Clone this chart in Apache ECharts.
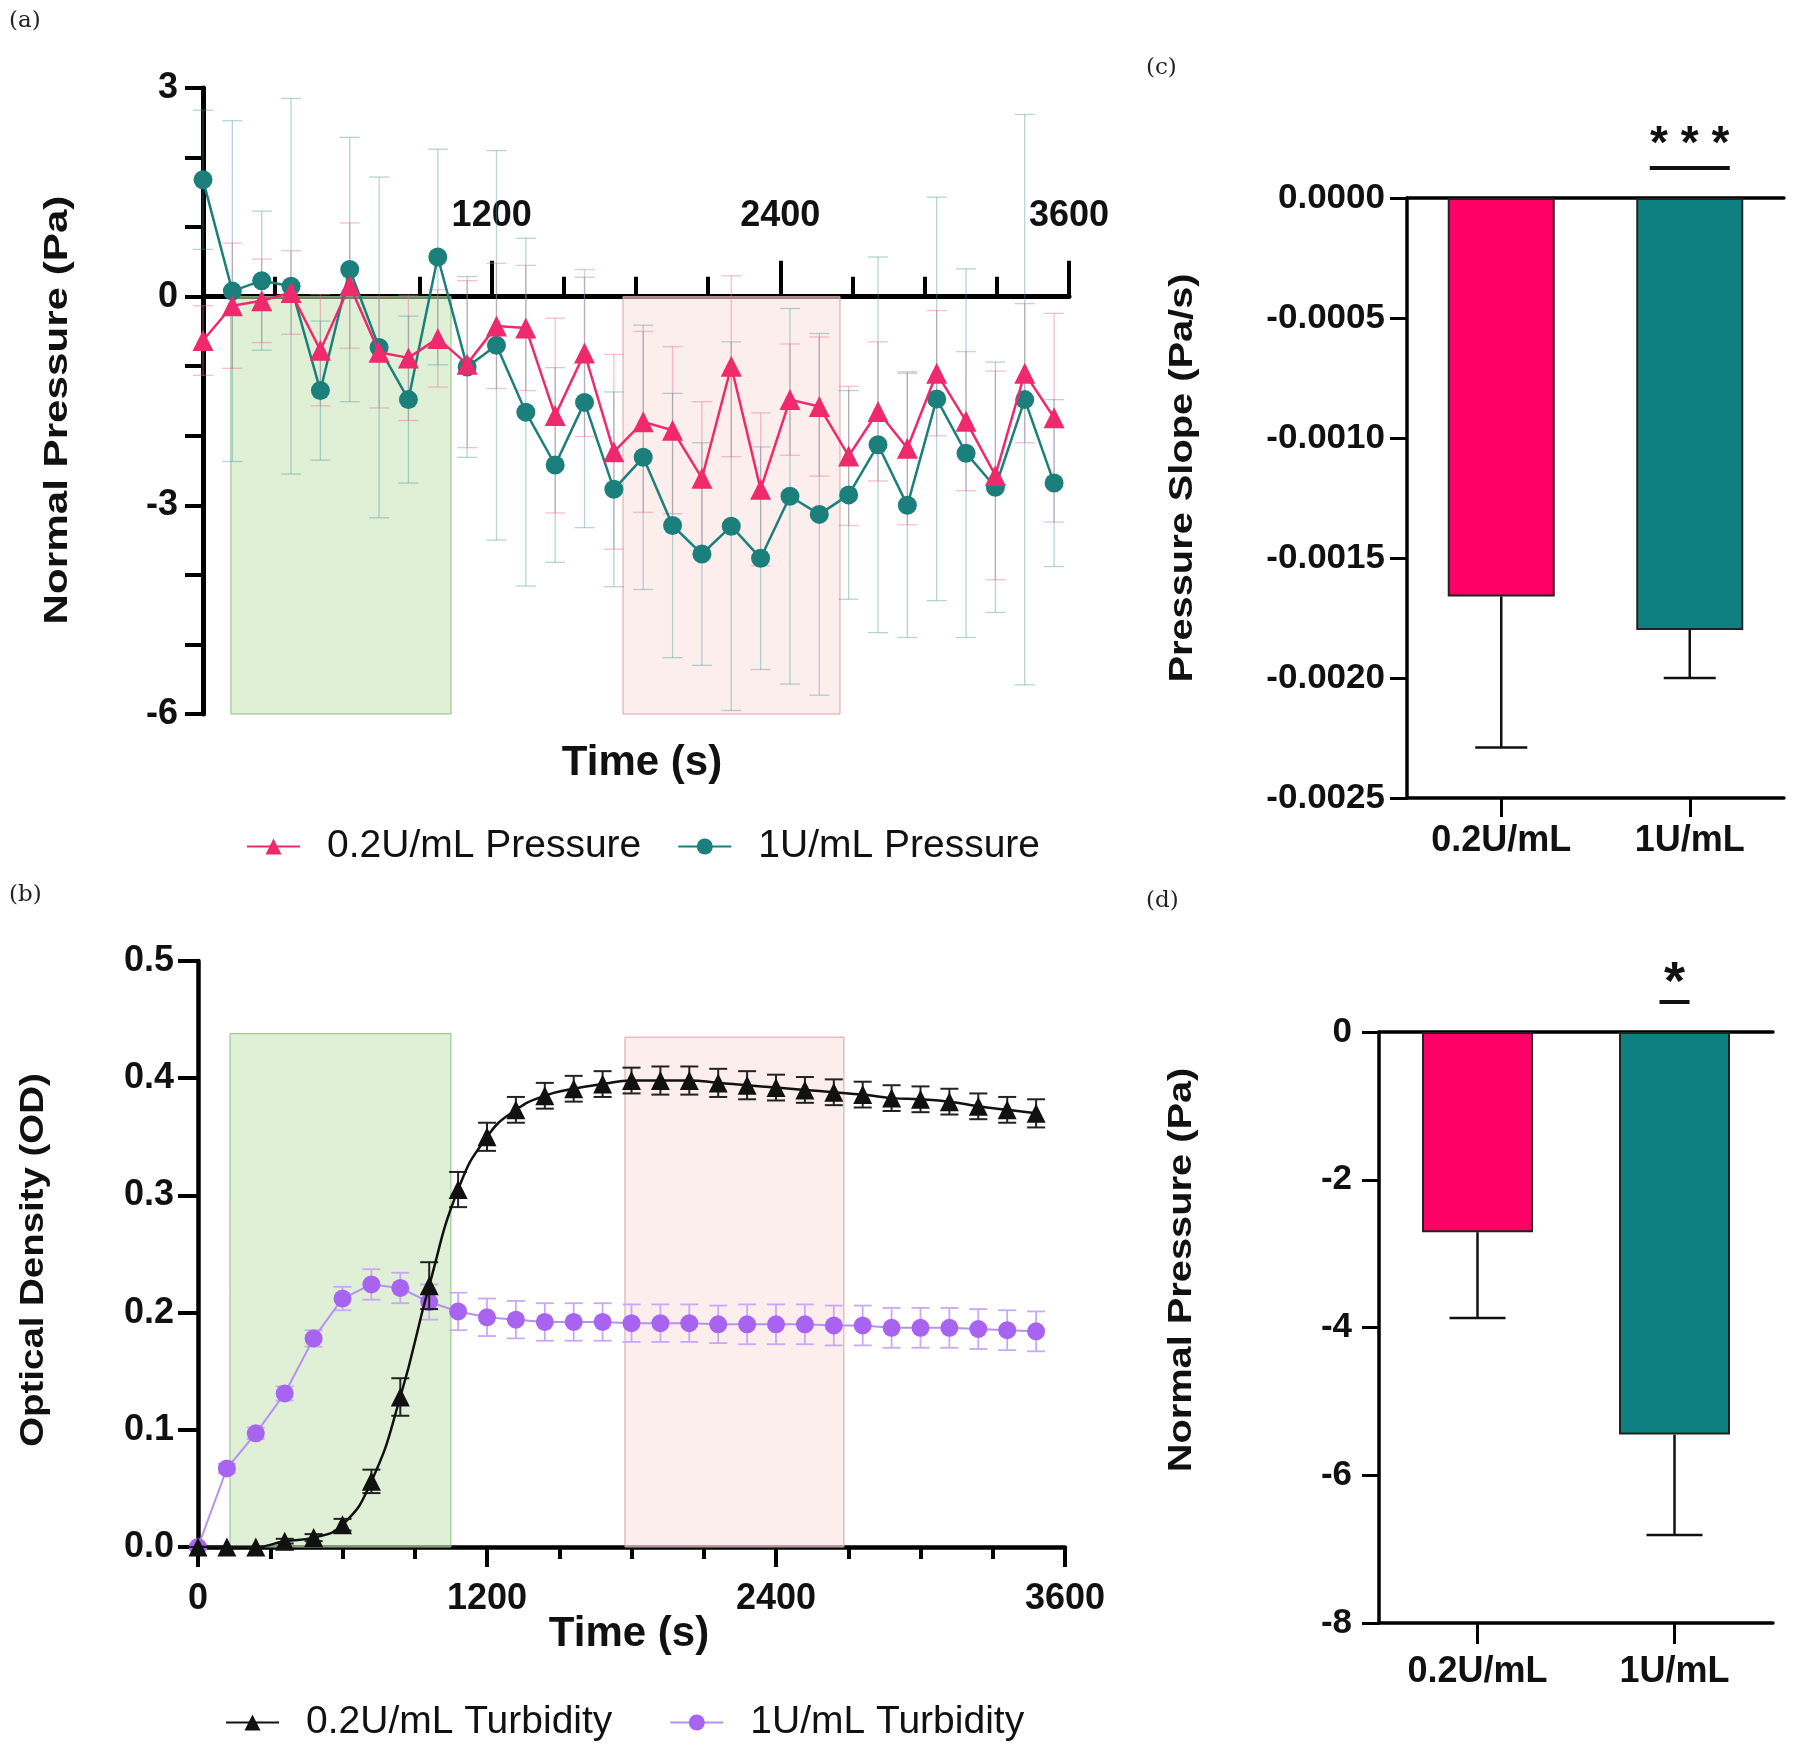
<!DOCTYPE html>
<html>
<head>
<meta charset="utf-8">
<script src="https://cdn.jsdelivr.net/npm/echarts@6/dist/echarts.min.js"></script>
<style>
  body { margin: 0; background: #fff; }
  #chart { width: 1800px; height: 1745px; }
</style>
</head>
<body>
<div id="chart"></div>
<script>
// ---- panel (a): normal pressure over time ----
const tA = [0, 122, 244, 366, 488, 610, 732, 854, 976, 1098, 1220, 1342, 1464, 1586, 1708,
  1830, 1952, 2074, 2196, 2318, 2440, 2562, 2684, 2806, 2928, 3050, 3172, 3294, 3416, 3538];
const pressLow = [-0.63, -0.13, -0.06, 0.06, -0.77, 0.16, -0.8, -0.88, -0.6, -0.97, -0.42, -0.45, -1.71, -0.81, -2.23,
  -1.8, -1.92, -2.61, -1.0, -2.77, -1.48, -1.58, -2.29, -1.65, -2.18, -1.1, -1.79, -2.57, -1.1, -1.74];
const pressLowErr = [0.5, 0.9, 0.6, 0.6, 0.8, 0.9, 0.8, 0.9, 0.7, 1.2, 0.9, 0.9, 1.4, 1.2, 1.4,
  1.3, 1.2, 1.1, 1.3, 1.1, 0.8, 1.0, 1.0, 1.0, 1.1, 0.9, 1.0, 1.5, 1.0, 1.5];
const pressHigh = [1.68, 0.08, 0.23, 0.15, -1.35, 0.39, -0.73, -1.48, 0.57, -1.01, -0.7, -1.66, -2.42, -1.52, -2.77,
  -2.31, -3.29, -3.70, -3.30, -3.76, -2.87, -3.13, -2.85, -2.13, -3.0, -1.47, -2.25, -2.74, -1.48, -2.68];
const pressHighErr = [1.0, 2.45, 1.0, 2.7, 1.0, 1.9, 2.45, 1.2, 1.55, 1.3, 2.8, 2.5, 1.4, 1.8, 1.4,
  1.9, 1.9, 1.6, 2.65, 1.6, 2.7, 2.6, 1.5, 2.7, 1.9, 2.9, 2.65, 1.8, 4.1, 1.2];
const shadeA = [[116, 1031, -6.07], [1746, 2648, -6.07]];

// ---- panel (b): optical density over time ----
const tB = [0, 120, 240, 360, 480, 600, 720, 840, 960, 1080, 1200, 1320, 1440, 1560, 1680,
  1800, 1920, 2040, 2160, 2280, 2400, 2520, 2640, 2760, 2880, 3000, 3120, 3240, 3360, 3480];
const odLow = [0, 0, 0, 0.005, 0.008, 0.019, 0.056, 0.128, 0.223, 0.305, 0.350, 0.373, 0.385, 0.391, 0.395,
  0.398, 0.398, 0.398, 0.396, 0.394, 0.392, 0.390, 0.388, 0.386, 0.383, 0.382, 0.380, 0.376, 0.373, 0.370];
const odLowErr = [0, 0, 0, 0.002, 0.003, 0.005, 0.01, 0.016, 0.02, 0.015, 0.012, 0.011, 0.011, 0.011, 0.011,
  0.011, 0.012, 0.012, 0.012, 0.012, 0.011, 0.011, 0.011, 0.011, 0.011, 0.011, 0.011, 0.011, 0.011, 0.012];
const odHigh = [0, 0.067, 0.097, 0.131, 0.178, 0.212, 0.224, 0.221, 0.209, 0.201, 0.196, 0.194, 0.192, 0.192, 0.192,
  0.191, 0.191, 0.191, 0.190, 0.190, 0.190, 0.190, 0.189, 0.189, 0.187, 0.187, 0.187, 0.186, 0.185, 0.184];
const odHighErr = [0.002, 0.004, 0.005, 0.006, 0.007, 0.01, 0.013, 0.013, 0.015, 0.016, 0.016, 0.016, 0.016, 0.016, 0.016,
  0.016, 0.016, 0.016, 0.016, 0.017, 0.017, 0.017, 0.017, 0.017, 0.017, 0.017, 0.017, 0.017, 0.017, 0.017];
const shadeB = [[133, 1050, 0.438], [1773, 2682, 0.435]];

// ---- panels (c) and (d): bar summaries ----
const groups = ["0.2U/mL", "1U/mL"];
const slopeMean = [-0.00166, -0.0018];
const slopeErr = [0.00063, 0.0002];
const pressMean = [-2.71, -5.45];
const pressErr = [1.16, 1.36];
const barColors = ["#ff0066", "#0f8080"];

const PINK = "#ee2a6c", TEAL = "#1b7f7b", PURPLE = "#a864f0";
const FONT = "Liberation Sans, Arial, sans-serif";

function errBars(capHalf, color, width) {
  return function (params, api) {
    const x = api.value(0);
    const a = api.coord([x, api.value(2)]);
    const b = api.coord([x, api.value(1)]);
    const st = { stroke: color, lineWidth: width };
    return {
      type: "group",
      children: [
        { type: "line", shape: { x1: a[0], y1: a[1], x2: b[0], y2: b[1] }, style: st },
        { type: "line", shape: { x1: a[0] - capHalf, y1: a[1], x2: a[0] + capHalf, y2: a[1] }, style: st },
        { type: "line", shape: { x1: b[0] - capHalf, y1: b[1], x2: b[0] + capHalf, y2: b[1] }, style: st },
      ],
    };
  };
}

// one sided whisker below the bar
function whisker(capHalf) {
  return function (params, api) {
    const i = api.value(0);
    const a = api.coord([i, api.value(1)]);
    const b = api.coord([i, api.value(2)]);
    const st = { stroke: "#111", lineWidth: 2.5 };
    return {
      type: "group",
      children: [
        { type: "line", shape: { x1: a[0], y1: a[1], x2: b[0], y2: b[1] }, style: st },
        { type: "line", shape: { x1: b[0] - capHalf, y1: b[1], x2: b[0] + capHalf, y2: b[1] }, style: st },
      ],
    };
  };
}

function shadeData(list) {
  const fills = [
    { color: "rgba(196,228,180,0.55)", borderColor: "#8fbf80", borderWidth: 1 },
    { color: "rgba(252,226,226,0.6)", borderColor: "#d9a0a8", borderWidth: 1 },
  ];
  return list.map((s, i) => [
    { xAxis: s[0], yAxis: 0, itemStyle: fills[i] },
    { xAxis: s[1], yAxis: s[2] },
  ]);
}

const lbl = { fontSize: 36, fontWeight: "bold", color: "#111", fontFamily: FONT };
const blackLine = (w) => ({ show: true, onZero: false, lineStyle: { color: "#000", width: w } });
const plain = (v) => String(v);

const chart = echarts.init(document.getElementById("chart"));

chart.setOption({
  animation: false,
  backgroundColor: "#fff",
  grid: [
    { left: 203, top: 88, width: 866, height: 626, outerBoundsMode: "none" },
    { left: 198, top: 961, width: 867, height: 586, outerBoundsMode: "none" },
    { left: 1407, top: 198, width: 377, height: 600, outerBoundsMode: "none" },
    { left: 1379, top: 1032, width: 394, height: 591, outerBoundsMode: "none" },
  ],
  xAxis: [
    {
      gridIndex: 0, type: "value", min: 0, max: 3600, interval: 1200,
      axisLine: { show: true, onZero: true, lineStyle: { color: "#000", width: 5 } },
      axisTick: { show: true, inside: true, length: 36, lineStyle: { color: "#000", width: 4 } },
      minorTick: { show: true, splitNumber: 4, length: 20, lineStyle: { color: "#000", width: 4 } },
      axisLabel: { show: false },
      splitLine: { show: false },
    },
    {
      gridIndex: 1, type: "value", min: 0, max: 3600, interval: 1200,
      axisLine: blackLine(4.5),
      axisTick: { show: true, length: 20, lineStyle: { color: "#000", width: 4 } },
      minorTick: { show: true, splitNumber: 4, length: 12, lineStyle: { color: "#000", width: 4 } },
      axisLabel: Object.assign({ margin: 34, formatter: plain }, lbl),
      splitLine: { show: false },
    },
    {
      gridIndex: 2, type: "category", data: groups, position: "bottom",
      axisLine: blackLine(3.5),
      axisTick: { show: true, alignWithLabel: true, length: 19, lineStyle: { color: "#000", width: 3 } },
      axisLabel: Object.assign({ margin: 25 }, lbl),
    },
    {
      gridIndex: 2, type: "category", data: groups, position: "top",
      axisLine: blackLine(3.5), axisTick: { show: false }, axisLabel: { show: false },
    },
    {
      gridIndex: 3, type: "category", data: groups, position: "bottom",
      axisLine: blackLine(3.5),
      axisTick: { show: true, alignWithLabel: true, length: 21, lineStyle: { color: "#000", width: 3 } },
      axisLabel: Object.assign({ margin: 31 }, lbl),
    },
    {
      gridIndex: 3, type: "category", data: groups, position: "top",
      axisLine: blackLine(3.5), axisTick: { show: false }, axisLabel: { show: false },
    },
    // tick labels of panel (a), which sit above the zero line
    {
      gridIndex: 0, type: "value", min: 0, max: 3600, interval: 1200, position: "top",
      axisLine: { show: false, onZero: false }, axisTick: { show: false }, splitLine: { show: false },
      axisLabel: Object.assign({ inside: true, margin: 110, formatter: (v) => (v === 0 ? "" : String(v)) }, lbl),
    },
  ],
  yAxis: [
    {
      gridIndex: 0, type: "value", min: -6, max: 3, interval: 1,
      axisLine: blackLine(5),
      axisTick: { show: true, length: 18, lineStyle: { color: "#000", width: 4 } },
      axisLabel: Object.assign({ margin: 25, formatter: (v) => (Math.abs(v % 3) < 1e-9 ? String(v) : "") }, lbl),
      splitLine: { show: false },
    },
    {
      gridIndex: 1, type: "value", min: 0, max: 0.5, interval: 0.1,
      axisLine: blackLine(4.5),
      axisTick: { show: true, length: 20, lineStyle: { color: "#000", width: 4 } },
      axisLabel: Object.assign({ margin: 24, formatter: (v) => v.toFixed(1) }, lbl),
      splitLine: { show: false },
    },
    {
      gridIndex: 2, type: "value", min: -0.0025, max: 0, interval: 0.0005,
      axisLine: blackLine(3.5),
      axisTick: { show: true, length: 17, lineStyle: { color: "#000", width: 3 } },
      axisLabel: Object.assign({}, lbl, { margin: 22, fontSize: 35, formatter: (v) => v.toFixed(4) }),
      splitLine: { show: false },
    },
    {
      gridIndex: 3, type: "value", min: -8, max: 0, interval: 2,
      axisLine: blackLine(3.5),
      axisTick: { show: true, length: 17, lineStyle: { color: "#000", width: 3 } },
      axisLabel: Object.assign({}, lbl, { margin: 27, fontSize: 35, formatter: plain }),
      splitLine: { show: false },
    },
  ],
  legend: [
    {
      data: ["0.2U/mL Pressure", "1U/mL Pressure"],
      left: 241, top: 822, itemWidth: 53, itemHeight: 20, itemGap: 36, selectedMode: false,
      textStyle: { fontSize: 39, fontFamily: FONT, color: "#111", padding: [0, 0, 0, 22] },
    },
    {
      data: ["0.2U/mL Turbidity", "1U/mL Turbidity"],
      left: 220, top: 1698, itemWidth: 53, itemHeight: 20, itemGap: 57, selectedMode: false,
      textStyle: { fontSize: 39, fontFamily: FONT, color: "#111", padding: [0, 0, 0, 22] },
    },
  ],
  series: [
    // (a)
    {
      type: "custom", xAxisIndex: 0, yAxisIndex: 0, silent: true, z: 1,
      renderItem: errBars(10, "rgba(235,110,150,0.45)", 1.3),
      encode: { x: 0, y: [1, 2] },
      data: tA.map((t, i) => [t, pressLow[i] - pressLowErr[i], pressLow[i] + pressLowErr[i]]),
      markArea: { silent: true, data: shadeData(shadeA) },
    },
    {
      type: "custom", xAxisIndex: 0, yAxisIndex: 0, silent: true, z: 1,
      renderItem: errBars(10, "rgba(70,150,150,0.4)", 1.3),
      encode: { x: 0, y: [1, 2] },
      data: tA.map((t, i) => [t, pressHigh[i] - pressHighErr[i], pressHigh[i] + pressHighErr[i]]),
    },
    {
      name: "1U/mL Pressure", type: "line", xAxisIndex: 0, yAxisIndex: 0, z: 3,
      symbol: "circle", symbolSize: 19,
      itemStyle: { color: TEAL }, lineStyle: { color: TEAL, width: 2.5 },
      data: tA.map((t, i) => [t, pressHigh[i]]),
    },
    {
      name: "0.2U/mL Pressure", type: "line", xAxisIndex: 0, yAxisIndex: 0, z: 4,
      symbol: "triangle", symbolSize: 21,
      itemStyle: { color: PINK }, lineStyle: { color: PINK, width: 2.5 },
      data: tA.map((t, i) => [t, pressLow[i]]),
    },
    // (b)
    {
      type: "custom", xAxisIndex: 1, yAxisIndex: 1, silent: true, z: 1,
      renderItem: errBars(9, "#c9a8f5", 1.8),
      encode: { x: 0, y: [1, 2] },
      data: tB.map((t, i) => [t, odHigh[i] - odHighErr[i], odHigh[i] + odHighErr[i]]),
      markArea: { silent: true, data: shadeData(shadeB) },
    },
    {
      name: "1U/mL Turbidity", type: "line", xAxisIndex: 1, yAxisIndex: 1, z: 3,
      symbol: "circle", symbolSize: 18,
      itemStyle: { color: PURPLE }, lineStyle: { color: "#b690f2", width: 2 },
      data: tB.map((t, i) => [t, odHigh[i]]),
    },
    {
      type: "custom", xAxisIndex: 1, yAxisIndex: 1, silent: true, z: 4,
      renderItem: errBars(9, "#222", 2),
      encode: { x: 0, y: [1, 2] },
      data: tB.map((t, i) => [t, odLow[i] - odLowErr[i], odLow[i] + odLowErr[i]]),
    },
    {
      name: "0.2U/mL Turbidity", type: "line", xAxisIndex: 1, yAxisIndex: 1, z: 5,
      symbol: "triangle", symbolSize: 19, smooth: true,
      itemStyle: { color: "#111" }, lineStyle: { color: "#111", width: 2.5 },
      data: tB.map((t, i) => [t, odLow[i]]),
    },
    // (c)
    {
      type: "bar", xAxisIndex: 2, yAxisIndex: 2, barWidth: 107, z: 2,
      data: slopeMean.map((v, i) => ({ value: v, itemStyle: { color: barColors[i], borderColor: "#222", borderWidth: 2 } })),
    },
    {
      type: "custom", xAxisIndex: 2, yAxisIndex: 2, silent: true, z: 3,
      renderItem: whisker(26),
      data: groups.map((g, i) => [i, slopeMean[i], slopeMean[i] - slopeErr[i]]),
    },
    // (d)
    {
      type: "bar", xAxisIndex: 4, yAxisIndex: 3, barWidth: 111, z: 2,
      data: pressMean.map((v, i) => ({ value: v, itemStyle: { color: barColors[i], borderColor: "#222", borderWidth: 2 } })),
    },
    {
      type: "custom", xAxisIndex: 4, yAxisIndex: 3, silent: true, z: 3,
      renderItem: whisker(28),
      data: groups.map((g, i) => [i, pressMean[i], pressMean[i] - pressErr[i]]),
    },
  ],
});

// annotations: panel letters, axis titles, significance marks
function vTitle(text, x, y, stretch) {
  return {
    type: "text", x: x, y: y, rotation: Math.PI / 2, scaleX: stretch,
    style: { text: text, fontSize: 34, fontWeight: "bold", fontFamily: FONT, fill: "#111", align: "center", verticalAlign: "middle" },
  };
}
function hText(text, x, y, size, weight, family) {
  return {
    type: "text", x: x, y: y,
    style: { text: text, fontSize: size, fontWeight: weight, fontFamily: family, fill: "#111", align: "center", verticalAlign: "middle" },
  };
}
function letter(text, x, y) {
  return {
    type: "text", x: x, y: y,
    style: { text: text, fontSize: 23, fontFamily: "DejaVu Serif, serif", fill: "#222", align: "left", verticalAlign: "top" },
  };
}

const pc = chart.convertToPixel({ gridIndex: 2 }, [1, 0]);
const pd = chart.convertToPixel({ gridIndex: 3 }, [1, 0]);

chart.setOption({
  graphic: [
    letter("(a)", 9, 10), letter("(b)", 9, 884), letter("(c)", 1146, 57), letter("(d)", 1146, 890),
    vTitle("Normal Pressure (Pa)", 58, 410, 1.24),
    vTitle("Optical Density (OD)", 34, 1260, 1.13),
    vTitle("Pressure Slope (Pa/s)", 1183, 478, 1.17),
    vTitle("Normal Pressure (Pa)", 1182, 1270, 1.17),
    hText("Time (s)", 642, 763, 42, "bold", FONT),
    hText("Time (s)", 629, 1634, 42, "bold", FONT),
    { type: "line", shape: { x1: pc[0] - 40, y1: pc[1] - 30, x2: pc[0] + 40, y2: pc[1] - 30 }, style: { stroke: "#111", lineWidth: 4 } },
    hText("* * *", pc[0], pc[1] - 53, 46, "bold", FONT),
    { type: "line", shape: { x1: pd[0] - 15, y1: pd[1] - 30, x2: pd[0] + 15, y2: pd[1] - 30 }, style: { stroke: "#111", lineWidth: 4 } },
    hText("*", pd[0], pd[1] - 48, 54, "bold", FONT),
  ],
});
</script>
</body>
</html>
